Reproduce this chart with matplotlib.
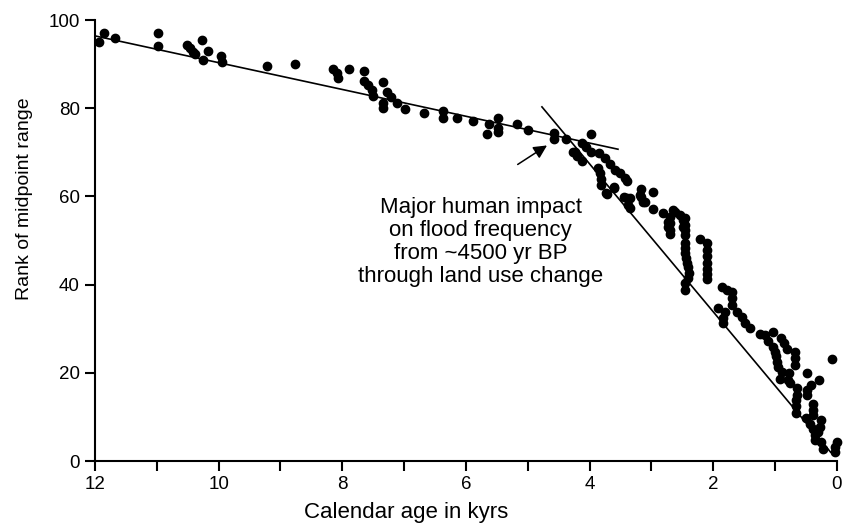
import numpy as np
import matplotlib.pyplot as plt

plt.rcParams['font.family'] = ['Liberation Sans', 'DejaVu Sans']

# Calendar age (kyrs) and rank of midpoint range
age = [11.93, 11.85, 11.68, 10.98, 10.98, 10.52, 10.46, 10.41, 10.38, 10.27,
       10.26, 10.17, 9.96, 9.95, 9.21, 8.77, 8.15, 8.09, 8.07,
       7.89, 7.65, 7.65, 7.58, 7.52, 7.50, 7.34, 7.34, 7.34, 7.28,
       7.21, 7.12, 6.99, 6.67, 6.37, 6.37, 6.15, 5.88, 5.66, 5.62,
       5.48, 5.48, 5.48, 5.18, 4.99, 4.57, 4.57, 4.38, 4.24,
       4.13, 3.98, 4.05, 3.98, 4.26, 4.21, 4.13, 3.84, 3.75, 3.87,
       3.83, 3.67, 3.59, 3.51, 3.82, 3.82, 3.60, 3.43, 3.39, 3.71,
       3.40, 3.35, 3.37, 3.35, 3.17, 3.16, 3.10, 2.98, 2.97, 2.81,
       2.65, 2.54, 2.49, 2.73, 2.73, 2.49,
       3.73, 3.61, 3.45, 3.19, 3.13, 2.70, 2.70, 2.70, 2.70, 2.62,
       2.46, 2.46, 2.46, 2.46, 2.46, 2.46, 2.46, 2.44, 2.42, 2.40,
       2.39, 2.40, 2.46, 2.46, 2.22, 2.10, 2.10, 2.10, 2.10, 2.10,
       2.10, 2.10, 1.86, 1.78, 1.92, 1.81,
       1.70, 1.70, 1.69, 1.84, 1.84, 1.61, 1.54, 1.48, 1.41, 1.25,
       1.16, 1.03, 1.11, 1.03, 1.00, 0.99, 0.97, 0.95, 0.89, 0.92,
       0.91, 0.86, 0.80, 0.68, 0.68, 0.68, 0.77, 0.79, 0.76, 0.65,
       0.65, 0.66, 0.66, 0.66, 0.48, 0.41, 0.49, 0.49, 0.29, 0.07,
       0.39, 0.39, 0.39, 0.50, 0.44, 0.39, 0.35, 0.35, 0.25, 0.27,
       0.30, 0.25, 0.22, 0.00, 0.03, 0.03]
rank = [94.9, 97.1, 96.0, 97.1, 94.2, 94.3, 93.6, 92.8, 92.4, 95.5,
        90.9, 93.0, 91.8, 90.4, 89.6, 90.0, 89.0, 87.9, 86.8,
        88.9, 88.4, 86.2, 85.3, 84.1, 82.8, 85.9, 81.1, 80.1, 83.7,
        82.6, 81.1, 79.8, 79.0, 79.4, 77.8, 77.8, 77.1, 74.1, 76.4,
        77.7, 75.6, 74.7, 76.4, 75.1, 74.3, 73.0, 73.0, 70.1,
        72.2, 74.1, 71.3, 70.1, 70.1, 69.2, 68.0, 69.8, 68.6, 66.4,
        65.2, 67.3, 66.1, 65.2, 63.9, 62.6, 62.0, 64.1, 63.4, 60.5,
        59.6, 59.6, 58.0, 57.3, 61.7, 59.9, 58.8, 60.9, 57.1, 56.2,
        56.9, 55.8, 54.6, 54.3, 53.1, 53.1,
        60.7, 62.2, 59.9, 60.3, 58.8, 55.3, 53.9, 52.4, 51.4, 56.5,
        55.0, 53.5, 52.4, 51.2, 49.4, 48.2, 47.1, 46.0, 44.8, 43.9,
        42.6, 41.4, 40.3, 38.8, 50.3, 49.4, 47.8, 46.5, 45.0, 43.5,
        42.4, 41.2, 39.5, 38.8, 34.6, 33.9,
        38.3, 36.9, 35.4, 32.4, 31.2, 33.9, 32.7, 31.4, 30.1, 28.7,
        28.6, 29.3, 27.1, 25.9, 24.8, 23.7, 22.5, 21.4, 20.2, 18.5,
        27.8, 26.8, 25.5, 24.8, 23.3, 21.8, 20.0, 18.4, 17.6, 16.5,
        15.0, 13.8, 12.5, 10.8, 19.9, 17.2, 16.1, 15.0, 18.4, 23.1,
        12.9, 11.6, 10.4, 9.7, 8.5, 7.2, 5.9, 4.8, 9.3, 7.8,
        6.6, 4.4, 2.7, 4.4, 3.1, 2.1]

# Two linear trends (early and late Holocene)
trend1_age = [12.0, 3.54]
trend1_rank = [96.4, 70.7]
trend2_age = [4.77, 0.1]
trend2_rank = [80.3, 2.0]

fig = plt.figure(figsize=(8.53, 5.25), dpi=100)
ax = fig.add_axes([0.1114, 0.1219, 0.8696, 0.8400])

ax.scatter(age, rank, s=36, color='black', zorder=3, clip_on=False)
ax.plot(trend1_age, trend1_rank, color='black', lw=1.2)
ax.plot(trend2_age, trend2_rank, color='black', lw=1.2)

ax.annotate('', xy=(4.65, 71.9), xytext=(5.2, 66.9),
            arrowprops=dict(arrowstyle='-|>', color='black', lw=1.1,
                            mutation_scale=20))
ax.text(5.76, 59.9, 'Major human impact\non flood frequency\nfrom ~4500 yr BP\nthrough land use change',
        ha='center', va='top', fontsize=16, linespacing=1.13)

ax.set_xlim(12, 0)
ax.set_ylim(0, 100)
ax.set_xticks(np.arange(0, 13, 2))
ax.set_xticks(np.arange(1, 12, 2), minor=True)
ax.set_yticks(np.arange(0, 101, 20))

for side in ['top', 'right']:
    ax.spines[side].set_visible(False)
for side in ['left', 'bottom']:
    ax.spines[side].set_linewidth(1.5)
ax.tick_params(which='both', direction='out', length=7, width=1.5, labelsize=13.5, pad=4)

ax.set_xlabel('Calendar age in kyrs', fontsize=16)
ax.xaxis.set_label_coords(0.419, -0.092)
ax.set_ylabel('Rank of midpoint range', fontsize=14)
ax.yaxis.set_label_coords(-0.084, 0.594)

plt.savefig('out.png', dpi=100)
